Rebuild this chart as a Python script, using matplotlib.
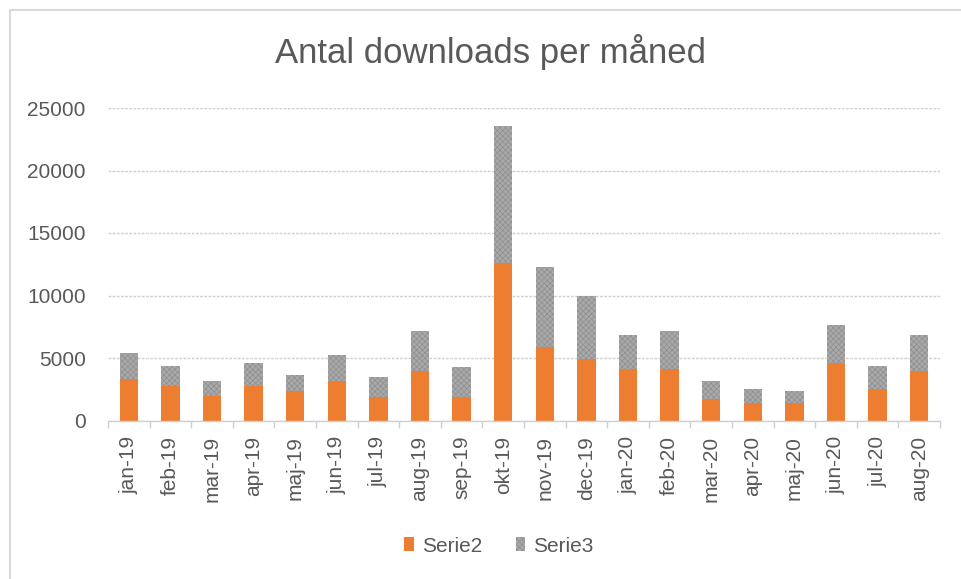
import matplotlib
matplotlib.use("Agg")
import matplotlib.pyplot as plt
from matplotlib.lines import Line2D
from matplotlib.ticker import FixedLocator, NullFormatter
import numpy as np

months = ["jan-19", "feb-19", "mar-19", "apr-19", "maj-19", "jun-19", "jul-19",
          "aug-19", "sep-19", "okt-19", "nov-19", "dec-19", "jan-20", "feb-20",
          "mar-20", "apr-20", "maj-20", "jun-20", "jul-20", "aug-20"]
serie2 = [3300, 2800, 2000, 2800, 2350, 3150, 1850, 3950, 1850, 12600,
          5850, 4900, 4100, 4100, 1700, 1400, 1400, 4600, 2500, 3950]
serie3 = [2100, 1600, 1150, 1800, 1300, 2100, 1600, 3200, 2400, 10950,
          6450, 5100, 2750, 3050, 1450, 1100, 950, 3050, 1900, 2900]
yticks = [0, 5000, 10000, 15000, 20000, 25000]
title = "Antal downloads per måned"

plt.rcParams['font.family'] = ['Liberation Sans', 'DejaVu Sans']
plt.rcParams['hatch.linewidth'] = 0.5
txt = '#595959'

fig = plt.figure(figsize=(9.61, 5.79), dpi=100)
ax = fig.add_axes([108/961, 1 - 420.5/579, (940 - 108)/961, (420.5 - 108)/579])

x = np.arange(len(months))
w = 0.44
ax.bar(x, serie2, width=w, color='#ED7D31', linewidth=0, label='Serie2', zorder=3)
ax.bar(x, serie3, width=w, bottom=serie2, facecolor='#a9a9a9', edgecolor='#8e8e8e',
       hatch='xxxxxx', linewidth=0, label='Serie3', zorder=3)

ax.set_xlim(-0.5, len(months) - 0.5)
ax.set_ylim(0, 25000)
ax.set_yticks(yticks)
ax.set_yticklabels([str(v) for v in yticks])
ax.tick_params(axis='y', length=0, pad=16, labelsize=15, labelcolor=txt)

ax.set_xticks(x)
ax.set_xticklabels(months, rotation=90)
ax.tick_params(axis='x', which='major', length=0, pad=11, labelsize=15, labelcolor=txt)
ax.xaxis.set_minor_locator(FixedLocator(np.arange(-0.5, len(months), 1.0)))
ax.xaxis.set_minor_formatter(NullFormatter())
ax.tick_params(axis='x', which='minor', length=5, width=1, color='#d0d0d0')

ax.grid(axis='y', color='#d0d0d0', linestyle=(0, (2, 1)), linewidth=1, zorder=0)
for s in ['top', 'right', 'left']:
    ax.spines[s].set_visible(False)
ax.spines['bottom'].set_color('#d0d0d0')
ax.spines['bottom'].set_linewidth(1)
ax.spines['bottom'].set_zorder(4)

fig.text(490/961, 1 - 52/579, title, ha='center', va='center', fontsize=25, color=txt)

leg = fig.legend(loc='center', bbox_to_anchor=(499/961, 1 - 546/579), ncol=2, frameon=False,
                 fontsize=15, labelcolor=txt, handlelength=0.45, handleheight=0.65,
                 handletextpad=0.4, columnspacing=1.6)

fig.add_artist(Line2D([10/961, 10/961], [0, 1 - 10/579], color='#d9d9d9', linewidth=1.5))
fig.add_artist(Line2D([10/961, 1], [1 - 10/579, 1 - 10/579], color='#d9d9d9', linewidth=1.5))

fig.savefig('out.png', dpi=100, facecolor='white')
